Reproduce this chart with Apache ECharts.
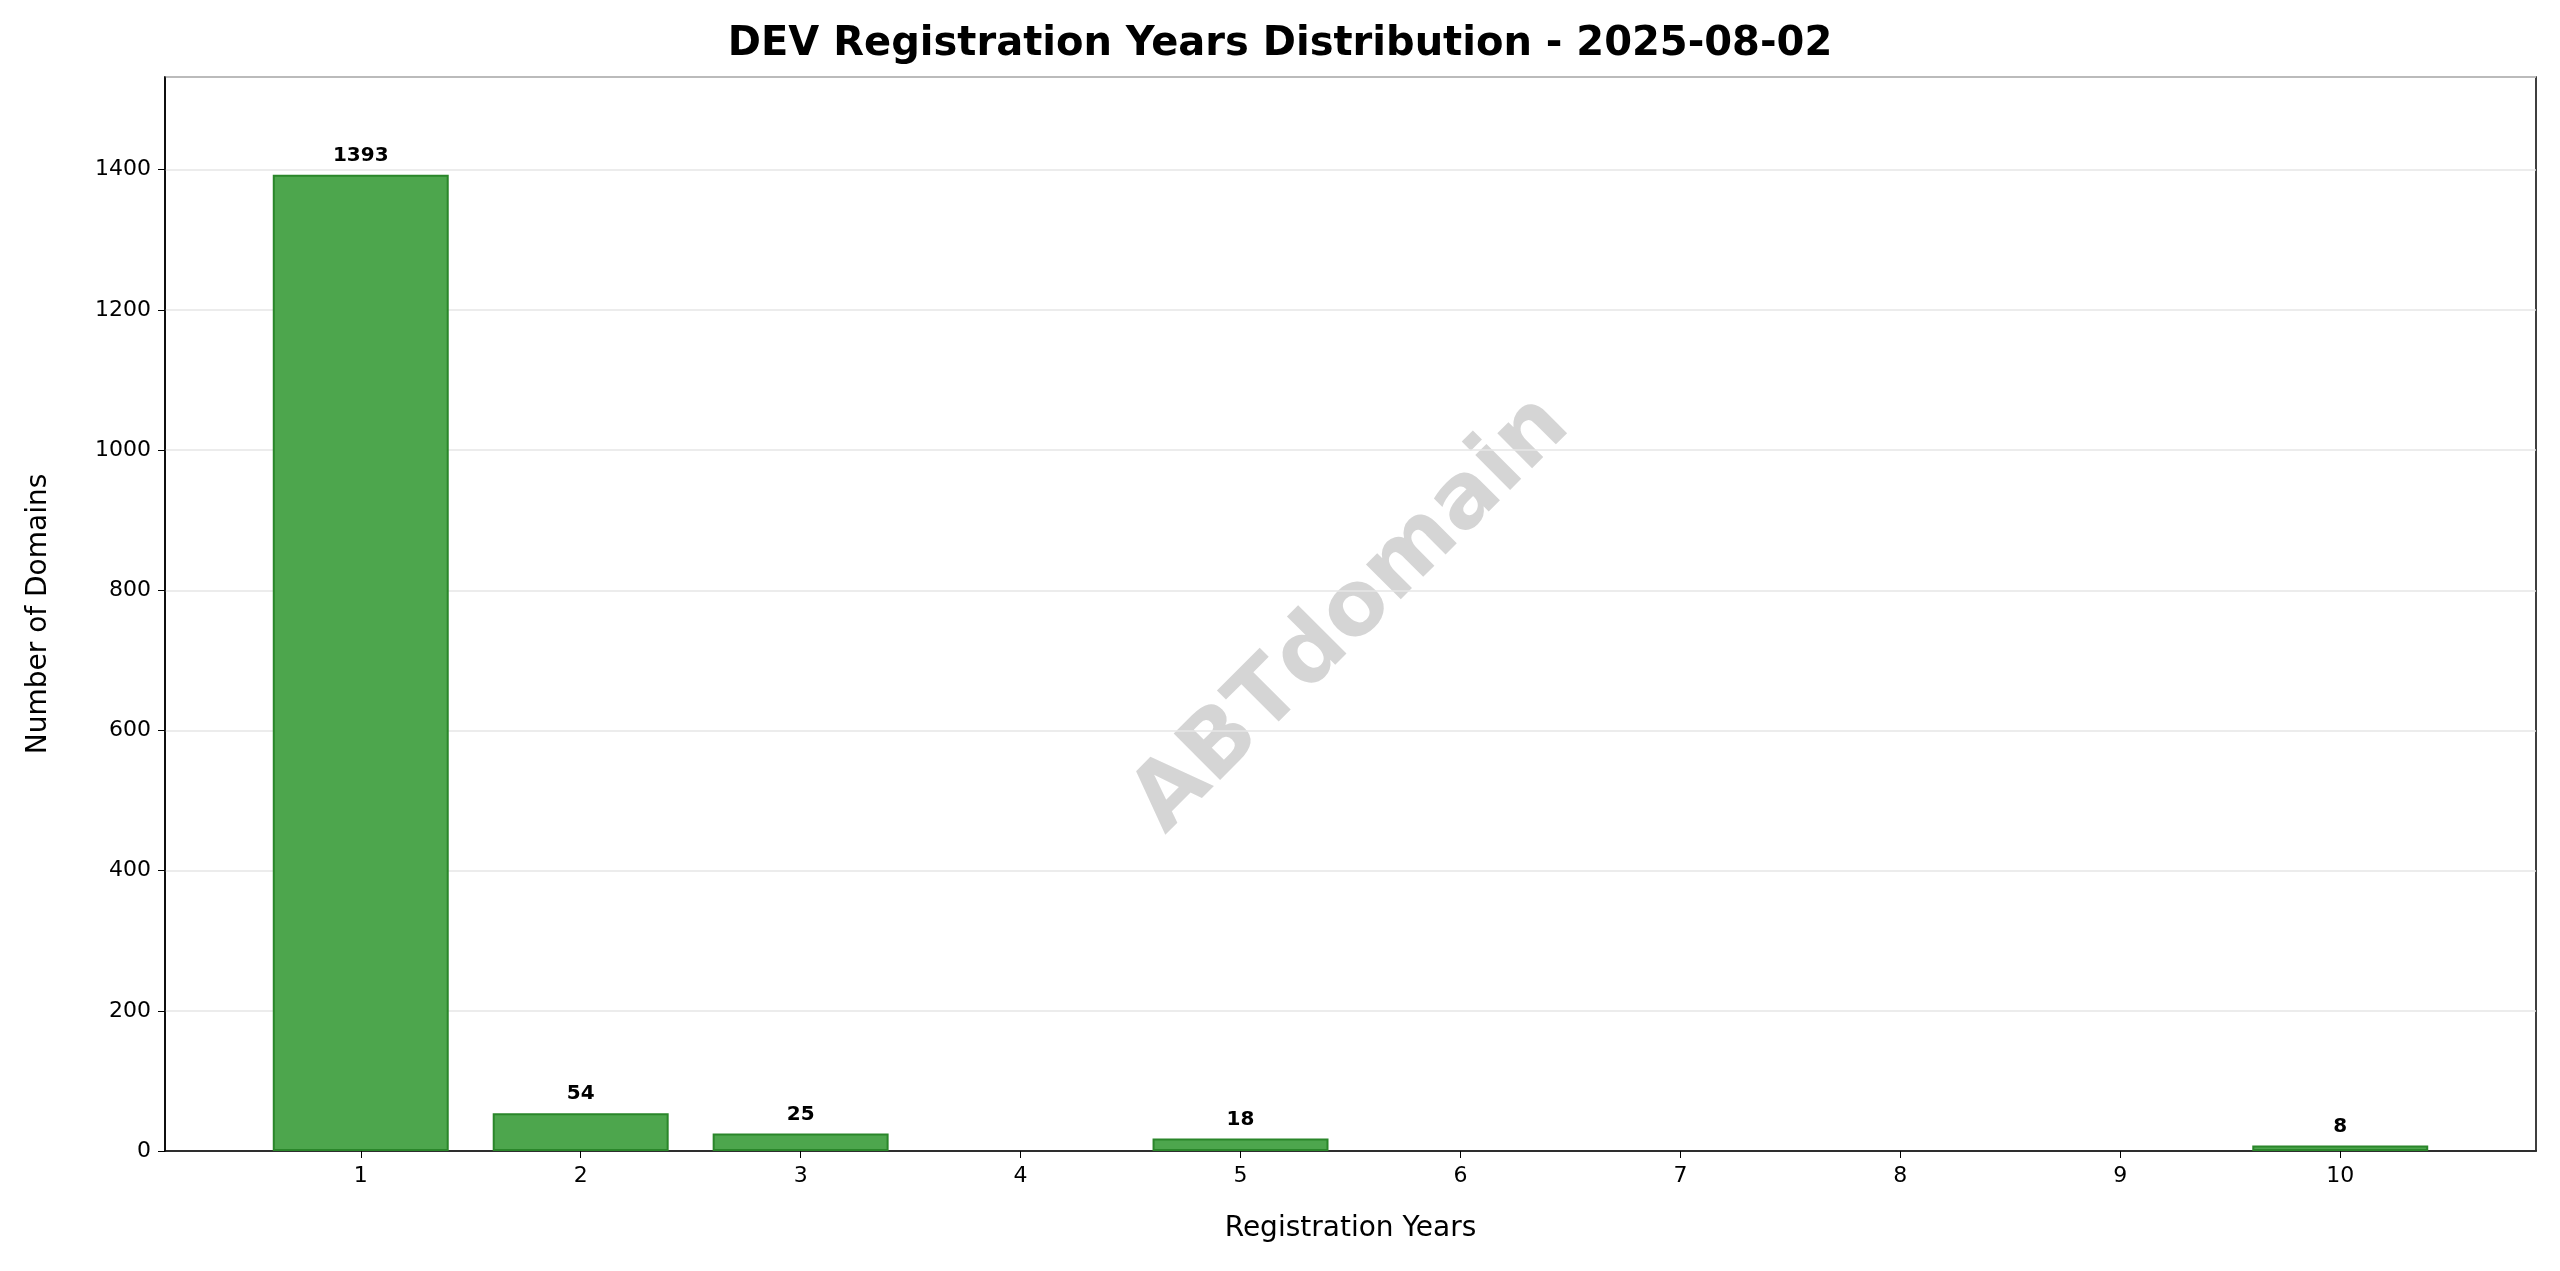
<!DOCTYPE html>
<html>
<head>
<meta charset="utf-8">
<script src="https://cdn.jsdelivr.net/npm/echarts@6/dist/echarts.min.js"></script>
<style>html,body{margin:0;padding:0;background:#fff}#chart{width:2560px;height:1271px}</style>
</head>
<body>
<div id="chart"></div>
<script>
var years = [1, 2, 3, 5, 10];
var counts = [1393, 54, 25, 18, 8];
var xTicks = [1, 2, 3, 4, 5, 6, 7, 8, 9, 10];

var chart = echarts.init(document.getElementById('chart'));
var gridLeft = 165, gridRight = 24, xMin = 0.11, xMax = 10.89;
var unitPx = (2560 - gridLeft - gridRight) / (xMax - xMin);

var option = {
  backgroundColor: '#fff',
  textStyle: { fontFamily: 'DejaVu Sans' },
  title: {
    text: 'DEV Registration Years Distribution - 2025-08-02',
    left: 'center', top: 20,
    textStyle: { fontSize: 40, fontWeight: 'bold', color: '#000', fontFamily: 'DejaVu Sans' }
  },
  grid: { left: gridLeft, right: gridRight, top: 77, bottom: 120, show: true, borderColor: '#000', borderWidth: 1.5, backgroundColor: 'transparent' },
  xAxis: {
    type: 'value', min: xMin, max: xMax,
    name: 'Registration Years', nameLocation: 'middle', nameGap: 64,
    nameTextStyle: { fontSize: 28, color: '#000' },
    axisLine: { show: true, onZero: false, lineStyle: { color: '#000', width: 1.5 } },
    axisTick: { show: true, length: 7, lineStyle: { color: '#000' }, customValues: xTicks },
    axisLabel: { fontSize: 22, color: '#000', margin: 14, customValues: xTicks },
    splitLine: { show: false }
  },
  yAxis: {
    type: 'value', min: 0, max: 1532.3, interval: 200,
    name: 'Number of Domains', nameLocation: 'middle', nameGap: 112,
    nameTextStyle: { fontSize: 28, color: '#000' },
    axisLine: { show: true, lineStyle: { color: '#000', width: 1.5 } },
    axisTick: { show: true, length: 7, lineStyle: { color: '#000' } },
    axisLabel: { fontSize: 22, color: '#000', margin: 14, showMaxLabel: false,
      formatter: function (v) { return String(v); } },
    splitLine: { show: true, lineStyle: { color: '#e6e6e6', width: 1.5 } }
  },
  graphic: [{
    type: 'text', rotation: Math.PI / 4,
    x: 1352, y: 615,
    style: { text: 'ABTdomain', fill: 'rgba(150,150,150,0.4)', font: 'bold 90px "DejaVu Sans"', align: 'center', verticalAlign: 'middle' }
  }],
  series: [{
    type: 'bar',
    data: years.map(function (y, i) { return [y, counts[i]]; }),
    barWidth: 0.8 * unitPx,
    itemStyle: { color: '#4da64d', borderColor: '#2a862a', borderWidth: 2 },
    label: { show: true, position: 'top', distance: 9, fontSize: 20, fontWeight: 'bold', color: '#000',
      formatter: function (p) { return p.value[1]; } }
  }]
};
chart.setOption(option);
</script>
</body>
</html>
